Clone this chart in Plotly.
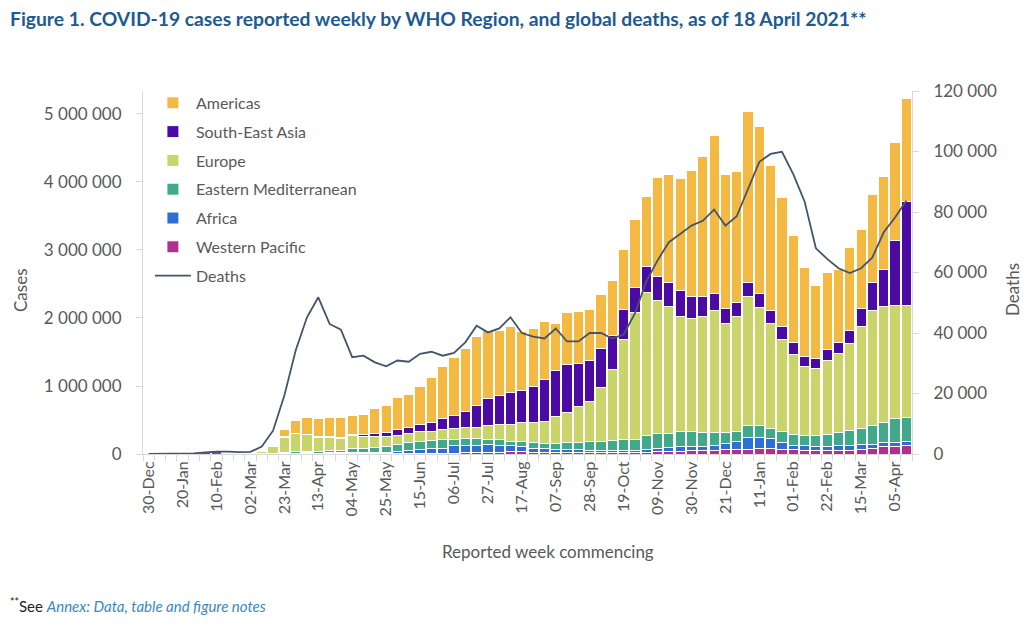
import plotly.graph_objects as go

# Week index 0 = week commencing 30-Dec-2019 ... 67 = 12-Apr-2021
tick_labels = ["30-Dec", "20-Jan", "10-Feb", "02-Mar", "23-Mar", "13-Apr", "04-May", "25-May",
               "15-Jun", "06-Jul", "27-Jul", "17-Aug", "07-Sep", "28-Sep", "19-Oct", "09-Nov",
               "30-Nov", "21-Dec", "11-Jan", "01-Feb", "22-Feb", "15-Mar", "05-Apr"]
n_weeks = 68

# Weekly cases by WHO region (thousands)
western_pacific = [0.05, 0.05, 0.3, 2, 12, 22, 30, 12, 4, 5, 3, 3, 8, 10, 10, 8, 8, 7, 6, 6,
                   6, 5, 8, 8, 10, 10, 12, 14, 18, 20, 29, 29, 34, 34, 25, 20, 20, 20, 18, 18,
                   18, 18, 20, 25, 25, 30, 35, 40, 45, 49, 55, 60, 65, 69, 75, 75, 70, 60, 50, 45,
                   45, 50, 55, 69, 83, 108, 108, 132]
africa = [0, 0, 0, 0, 0, 0, 0, 0, 0, 0, 0.1, 0.5, 2, 4, 5, 6, 8, 9, 10, 10,
          14, 20, 31, 41, 49, 68, 71, 108, 104, 102, 113, 103, 84, 74, 58, 58, 50, 45, 42, 40,
          38, 35, 33, 32, 44, 53, 63, 68, 63, 59, 77, 97, 116, 176, 170, 155, 97, 72, 68, 63,
          63, 68, 77, 78, 64, 59, 59, 59]
eastern_med = [0, 0, 0, 0, 0, 0, 0, 0, 1, 8, 6, 8, 15, 20, 25, 28, 33, 39, 58, 58,
               73, 83, 108, 118, 122, 118, 133, 98, 108, 103, 74, 74, 73, 73, 84, 79, 87, 102, 107, 123,
               125, 148, 153, 159, 196, 221, 206, 220, 220, 206, 182, 157, 147, 167, 181, 147, 161, 162, 161, 171,
               186, 196, 211, 230, 279, 294, 357, 348]
europe = [0, 0, 0, 0, 0, 0, 0, 0, 1, 12, 35, 95, 225, 266, 240, 208, 196, 175, 191, 181,
          162, 147, 132, 137, 147, 142, 137, 152, 157, 162, 210, 235, 250, 280, 294, 328, 392, 446, 529, 588,
          799, 1044, 1480, 1862, 2107, 1950, 1862, 1701, 1666, 1715, 1803, 1607, 1691, 1901, 1730, 1544, 1358, 1176, 1005, 980,
          1088, 1166, 1284, 1495, 1681, 1705, 1666, 1651]
south_east_asia = [0, 0, 0, 0, 0, 0, 0, 0, 0, 0.1, 0.2, 0.5, 2, 4, 5, 8, 10, 15, 24, 39,
                   49, 59, 74, 88, 113, 128, 171, 201, 245, 333, 392, 426, 461, 480, 529, 613, 686, 710, 637, 603,
                   573, 504, 441, 372, 382, 363, 353, 372, 329, 284, 245, 220, 206, 206, 206, 196, 196, 176, 157, 147,
                   157, 157, 186, 269, 412, 544, 956, 1519]
americas = [0, 0, 0, 0, 0, 0, 0, 0, 0, 1, 5, 12, 101, 186, 254, 257, 284, 294, 284, 294,
            367, 396, 480, 485, 559, 656, 770, 848, 921, 1015, 1005, 956, 980, 857, 857, 857, 686, 755, 759, 755,
            799, 799, 882, 1000, 1029, 1450, 1597, 1646, 1852, 2058, 2318, 1970, 1935, 2513, 2460, 2122, 1891, 1573, 1303, 1069,
            1132, 1083, 1220, 1167, 1298, 1377, 1431, 1519]

# Global weekly deaths (thousands)
deaths = [0, 0, 0, 0.05, 0.2, 0.5, 0.8, 0.8, 0.6, 0.7, 2.5, 7.7, 19.3, 34.2, 45.2, 51.8, 43.0, 41.1, 32.0, 32.5,
          30.3, 29.0, 30.9, 30.5, 33.1, 33.8, 32.5, 33.4, 36.9, 42.4, 40.2, 41.5, 45.2, 40.0, 38.8, 38.2, 41.5, 37.2, 37.2, 40.0,
          40.0, 38.2, 39.5, 46.5, 57.0, 64.0, 70.0, 72.7, 75.5, 77.1, 80.8, 75.5, 78.6, 87.6, 96.6, 99.2, 99.9, 92.5, 83.5, 68.0,
          64.5, 61.4, 59.8, 61.4, 65.0, 73.3, 78.2, 83.7]

weeks = list(range(n_weeks))
FONT = "Lato"
GREY = "#595959"
AXIS = "#D9D9D9"

series = [
    ("Western Pacific", western_pacific, "#B1308F", 6),
    ("Africa", africa, "#2E6FD5", 5),
    ("Eastern Mediterranean", eastern_med, "#40A98A", 4),
    ("Europe", europe, "#C9D46B", 3),
    ("South-East Asia", south_east_asia, "#4A0AA3", 2),
    ("Americas", americas, "#F4B942", 1),
]

fig = go.Figure()
for name, vals, color, rank in series:
    fig.add_trace(go.Bar(
        x=weeks, y=[v * 1000 for v in vals], name=name,
        marker=dict(color=color, line=dict(color="white", width=1)),
        legendrank=rank, legendgroup=name,
    ))

fig.add_trace(go.Scatter(
    x=weeks, y=[d * 1000 for d in deaths], name="Deaths", yaxis="y2",
    mode="lines", line=dict(color="#44546A", width=1.8), legendrank=7, legendgroup="Deaths",
))

left_ticks = [0, 1e6, 2e6, 3e6, 4e6, 5e6]
left_text = ["0", "1 000 000", "2 000 000", "3 000 000", "4 000 000", "5 000 000"]
right_ticks = [0, 20000, 40000, 60000, 80000, 100000, 120000]
right_text = ["0", "20 000", "40 000", "60 000", "80 000", "100 000", "120 000"]

# The page body has an 8 px margin, so the figure is sized to fit inside the window.
W, H = 1026, 629
fig.update_layout(
    width=W, height=H,
    margin=dict(l=135, r=122, t=83, b=183),
    plot_bgcolor="white", paper_bgcolor="white",
    barmode="stack", bargap=0.1,
    font=dict(family=FONT, color=GREY, size=16),
    title=dict(
        text="<b>Figure 1. COVID-19 cases reported weekly by WHO Region, and global deaths, as of 18 April 2021**</b>",
        x=2 / W, xanchor="left", y=1 - 4 / H, yanchor="top",
        font=dict(family=FONT, size=19.3, color="#1D5A93"),
    ),
    xaxis=dict(
        range=[-0.5, n_weeks - 0.5],
        tickmode="array", tickvals=list(range(0, 67, 3)), ticktext=tick_labels,
        tickangle=-90, ticks="", showline=True, linecolor=AXIS, linewidth=1,
        showgrid=False, zeroline=False, tickfont=dict(size=16, color=GREY),
        minor=dict(ticks="outside", tickmode="linear", tick0=0.5, dtick=1, ticklen=6, tickcolor=AXIS),
    ),
    yaxis=dict(
        range=[0, 5.338e6], tickmode="array", tickvals=left_ticks, ticktext=left_text,
        showline=True, linecolor=AXIS, ticks="outside", ticklen=6, tickcolor=AXIS,
        showgrid=False, zeroline=False, tickfont=dict(size=17, color=GREY), ticklabelstandoff=11,
    ),
    yaxis2=dict(
        range=[0, 120000], overlaying="y", side="right",
        tickmode="array", tickvals=right_ticks, ticktext=right_text,
        showline=True, linecolor=AXIS, ticks="outside", ticklen=6, tickcolor=AXIS,
        showgrid=False, zeroline=False, tickfont=dict(size=17, color=GREY), ticklabelstandoff=11,
    ),
    legend=dict(
        x=0.009, y=1.014, xanchor="left", yanchor="top",
        font=dict(size=16, color=GREY), bgcolor="rgba(0,0,0,0)",
        tracegroupgap=5, itemwidth=36,
    ),
    annotations=[
        dict(text="Cases", xref="paper", yref="paper", x=(20 - 143) / 769, y=(454 - 290) / 363,
             textangle=-90, showarrow=False, font=dict(size=17, color=GREY), xanchor="center", yanchor="middle"),
        dict(text="Deaths", xref="paper", yref="paper", x=(1012 - 143) / 769, y=(454 - 290) / 363,
             textangle=-90, showarrow=False, font=dict(size=17, color=GREY), xanchor="center", yanchor="middle"),
        dict(text="Reported week commencing", xref="paper", yref="paper", x=(548 - 143) / 769, y=(454 - 551) / 363,
             showarrow=False, font=dict(size=17, color=GREY), xanchor="center", yanchor="middle"),
        dict(text="<sup>**</sup>See <span style='color:#3A87C8'><i>Annex: Data, table and figure notes</i></span>",
             xref="paper", yref="paper", x=-135 / 769, y=(454 - 605) / 363,
             showarrow=False, font=dict(size=15, color="#222222"), xanchor="left", yanchor="middle"),
    ],
)

fig.write_html("out.html")
